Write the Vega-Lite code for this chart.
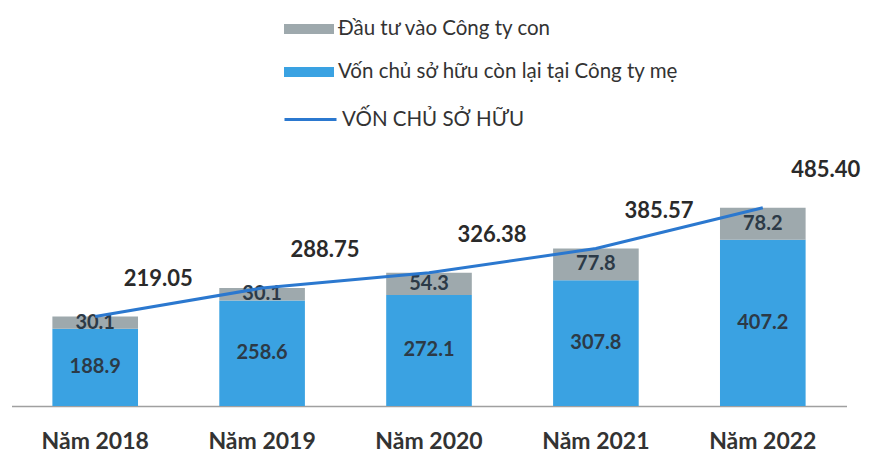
{
  "$schema": "https://vega.github.io/schema/vega-lite/v6.json",
  "width": 835,
  "height": 245,
  "autosize": "none",
  "padding": {"left": 11.5, "top": 161, "right": 26.5, "bottom": 63},
  "background": "white",
  "config": {
    "view": {"stroke": null},
    "font": "Lato"
  },
  "datasets": {
    "bars": [
      {"year": "Năm 2018", "series": "Vốn chủ sở hữu còn lại tại Công ty mẹ", "value": 188.9},
      {"year": "Năm 2018", "series": "Đầu tư vào Công ty con", "value": 30.1},
      {"year": "Năm 2019", "series": "Vốn chủ sở hữu còn lại tại Công ty mẹ", "value": 258.6},
      {"year": "Năm 2019", "series": "Đầu tư vào Công ty con", "value": 30.1},
      {"year": "Năm 2020", "series": "Vốn chủ sở hữu còn lại tại Công ty mẹ", "value": 272.1},
      {"year": "Năm 2020", "series": "Đầu tư vào Công ty con", "value": 54.3},
      {"year": "Năm 2021", "series": "Vốn chủ sở hữu còn lại tại Công ty mẹ", "value": 307.8},
      {"year": "Năm 2021", "series": "Đầu tư vào Công ty con", "value": 77.8},
      {"year": "Năm 2022", "series": "Vốn chủ sở hữu còn lại tại Công ty mẹ", "value": 407.2},
      {"year": "Năm 2022", "series": "Đầu tư vào Công ty con", "value": 78.2}
    ],
    "totals": [
      {"year": "Năm 2018", "total": 219.05, "label": "219.05"},
      {"year": "Năm 2019", "total": 288.75, "label": "288.75"},
      {"year": "Năm 2020", "total": 326.38, "label": "326.38"},
      {"year": "Năm 2021", "total": 385.57, "label": "385.57"},
      {"year": "Năm 2022", "total": 485.40, "label": "485.40"}
    ]
  },
  "encoding": {
    "x": {
      "field": "year",
      "type": "nominal",
      "scale": {"paddingInner": 0.487, "paddingOuter": 0.245},
      "axis": {
        "title": null,
        "labelAngle": 0,
        "ticks": false,
        "domainColor": "#a0a0a0",
        "domainWidth": 1.5,
        "labelFont": "Lato",
        "labelFontWeight": "bold",
        "labelFontSize": 23,
        "labelColor": "#333333",
        "labelPadding": 24
      }
    }
  },
  "layer": [
    {
      "data": {"name": "bars"},
      "mark": {"type": "bar"},
      "encoding": {
        "y": {"field": "value", "type": "quantitative", "stack": "zero", "scale": {"domain": [0, 600]}, "axis": null},
        "order": {"field": "series", "sort": "ascending"},
        "color": {
          "field": "series",
          "type": "nominal",
          "scale": {
            "domain": ["Đầu tư vào Công ty con", "Vốn chủ sở hữu còn lại tại Công ty mẹ"],
            "range": ["#9ea9ad", "#3aa2e2"]
          },
          "legend": {
            "title": null,
            "orient": "none",
            "legendX": 272.5,
            "legendY": -157,
            "padding": 0,
            "symbolType": "M-1,-0.2L1,-0.2L1,0.2L-1,0.2Z",
            "symbolSize": 2500,
            "symbolStrokeWidth": 0,
            "symbolOpacity": 1,
            "labelFont": "Lato",
            "labelFontSize": 20.5,
            "labelColor": "#333333",
            "labelOffset": 4,
            "rowPadding": 7,
            "labelLimit": 400
          }
        }
      }
    },
    {
      "data": {"name": "bars"},
      "mark": {"type": "text", "font": "Lato", "fontWeight": "bold", "fontSize": 20, "color": "#2c3a47", "baseline": "middle"},
      "encoding": {
        "y": {"field": "value", "type": "quantitative", "stack": "zero", "bandPosition": 0.5},
        "order": {"field": "series", "sort": "ascending"},
        "text": {"field": "value", "type": "quantitative", "format": ".1f"}
      }
    },
    {
      "data": {"name": "totals"},
      "mark": {"type": "line", "strokeWidth": 3},
      "encoding": {
        "y": {"field": "total", "type": "quantitative"},
        "stroke": {
          "datum": "VỐN CHỦ SỞ HỮU",
          "scale": {"range": ["#2b78cf"]},
          "legend": {
            "title": null,
            "orient": "none",
            "legendX": 271.5,
            "legendY": -69,
            "padding": 0,
            "symbolType": "stroke",
            "symbolSize": 2704,
            "symbolStrokeWidth": 3,
            "labelFont": "Lato",
            "labelFontSize": 20.5,
            "labelColor": "#333333",
            "labelOffset": 4,
            "labelLimit": 400
          }
        }
      }
    },
    {
      "data": {"name": "totals"},
      "mark": {"type": "text", "font": "Lato", "fontWeight": "bold", "fontSize": 22, "color": "#2a2a2a", "dx": 63, "dy": -38, "baseline": "middle"},
      "encoding": {
        "y": {"field": "total", "type": "quantitative"},
        "text": {"field": "label", "type": "nominal"}
      }
    }
  ]
}
